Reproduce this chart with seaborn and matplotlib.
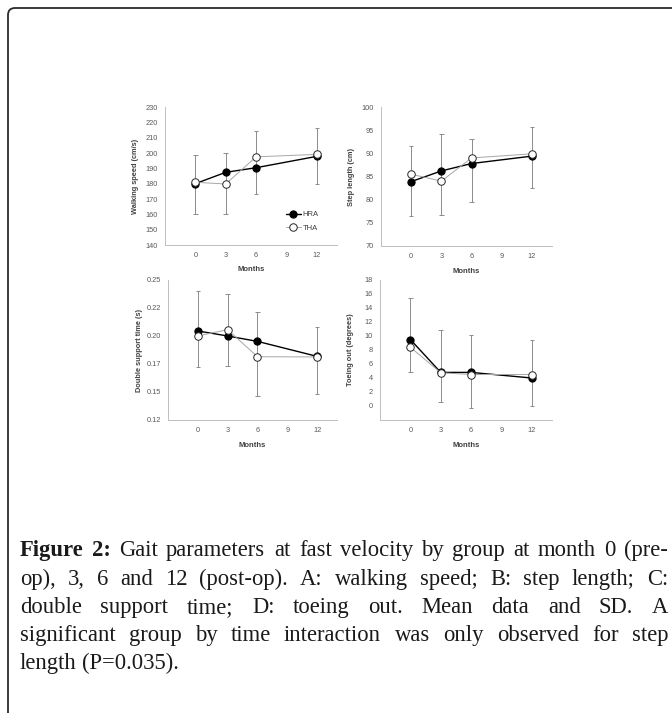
import matplotlib
matplotlib.use("Agg")
import matplotlib.pyplot as plt
import seaborn as sns
import pandas as pd
from matplotlib.path import Path
from matplotlib.patches import PathPatch
from matplotlib.transforms import IdentityTransform

# ---------------- data ----------------
months = [0, 3, 6, 12]
month_ticks = [0, 3, 6, 9, 12]
groups = ["HRA", "THA"]

ws_hra = [180.0, 187.4, 190.4, 197.8]
ws_tha = [180.9, 179.8, 197.5, 199.1]
ws_err_lo = [160.2, 160.2, 173.3, 179.8]
ws_err_hi = [198.7, 200.2, 214.1, 216.5]
ws_ticks = [140, 150, 160, 170, 180, 190, 200, 210, 220, 230]

sl_hra = [83.9, 86.2, 87.8, 89.4]
sl_tha = [85.5, 84.0, 89.0, 89.9]
sl_err_lo = [76.5, 76.7, 79.4, 82.5]
sl_err_hi = [91.5, 94.1, 93.0, 95.6]
sl_ticks = [70, 75, 80, 85, 90, 95, 100]

ds_hra = [0.2045, 0.2000, 0.1952, 0.1818]
ds_tha = [0.2000, 0.2057, 0.1815, 0.1813]
ds_err_lo = [0.1720, 0.1735, 0.1461, 0.1480]
ds_err_hi = [0.2402, 0.2372, 0.2211, 0.2077]
ds_ticks = [0.125, 0.15, 0.175, 0.2, 0.225, 0.25]
ds_tick_labels = ["0.12", "0.15", "0.17", "0.20", "0.22", "0.25"]

to_hra = [9.5, 4.8, 4.8, 4.0]
to_tha = [8.4, 4.75, 4.5, 4.5]
to_err_lo = [4.8, 0.6, -0.3, 0.0]
to_err_hi = [15.5, 10.8, 10.2, 9.4]
to_ticks = [0, 2, 4, 6, 8, 10, 12, 14, 16, 18]

caption_lines = [
    "Figure 2: Gait parameters at fast velocity by group at month 0 (pre-",
    "op), 3, 6 and 12 (post-op). A: walking speed; B: step length; C:",
    "double support time; D: toeing out. Mean data and SD. A",
    "significant group by time interaction was only observed for step",
    "length (P=0.035).",
]

# ---------------- style ----------------
sns.set_style("white")
plt.rcParams["font.family"] = ["Liberation Sans", "DejaVu Sans"]

W, H = 672, 713
fig = plt.figure(figsize=(W / 100, H / 100), dpi=100)

def px_axes(x0, x1, y0, y1):
    return fig.add_axes([x0 / W, 1 - y1 / H, (x1 - x0) / W, (y1 - y0) / H])

panels = [
    dict(box=(165, 337, 107, 245), hra=ws_hra, tha=ws_tha, lo=ws_err_lo, hi=ws_err_hi,
         ylim=(140, 230), ticks=ws_ticks, labels=[str(t) for t in ws_ticks],
         ylabel="Walking speed (cm/s)", legend=True),
    dict(box=(381, 552, 107, 246), hra=sl_hra, tha=sl_tha, lo=sl_err_lo, hi=sl_err_hi,
         ylim=(70, 100), ticks=sl_ticks, labels=[str(t) for t in sl_ticks],
         ylabel="Step length (cm)", legend=False),
    dict(box=(168, 337, 280, 420), hra=ds_hra, tha=ds_tha, lo=ds_err_lo, hi=ds_err_hi,
         ylim=(0.125, 0.25), ticks=ds_ticks, labels=ds_tick_labels,
         ylabel="Double support time (s)", legend=False),
    dict(box=(380, 552, 280, 420), hra=to_hra, tha=to_tha, lo=to_err_lo, hi=to_err_hi,
         ylim=(-2, 18), ticks=to_ticks, labels=[str(t) for t in to_ticks],
         ylabel="Toeing out (degrees)", legend=False),
]

tick_col = "#595959"
spine_col = "#bfbfbf"
err_col = "#8c8c8c"

for p in panels:
    x0, x1, y0, y1 = p["box"]
    ax = px_axes(x0, x1, y0, y1)
    # error bars
    ax.vlines(months, p["lo"], p["hi"], color=err_col, lw=0.7, zorder=1)
    ax.hlines(p["lo"], [m - 0.22 for m in months], [m + 0.22 for m in months],
              color=err_col, lw=0.7, zorder=1)
    ax.hlines(p["hi"], [m - 0.22 for m in months], [m + 0.22 for m in months],
              color=err_col, lw=0.7, zorder=1)
    df = pd.DataFrame({"Months": months * 2,
                       "value": p["hra"] + p["tha"],
                       "group": [groups[0]] * 4 + [groups[1]] * 4})
    sns.lineplot(data=df[df.group == "HRA"], x="Months", y="value", ax=ax,
                 color="black", lw=1.0, marker="o", markersize=5.2,
                 markerfacecolor="black", markeredgecolor="black", label="HRA",
                 legend=False, zorder=3)
    sns.lineplot(data=df[df.group == "THA"], x="Months", y="value", ax=ax,
                 color="#a6a6a6", lw=0.7, marker="o", markersize=5.4,
                 markerfacecolor="white", markeredgecolor="#262626",
                 markeredgewidth=0.7, label="THA", legend=False, zorder=4)
    ax.set_xlim(-3, 14)
    ax.set_ylim(*p["ylim"])
    ax.set_xticks(month_ticks)
    ax.set_xticklabels([str(m) for m in month_ticks])
    ax.set_yticks(p["ticks"])
    ax.set_yticklabels(p["labels"])
    ax.tick_params(axis="both", labelsize=5.3, colors=tick_col, length=2,
                   width=0.5, pad=3, direction="out")
    ax.tick_params(axis="x", color=spine_col)
    ax.tick_params(axis="y", color=spine_col)
    for s in ["top", "right"]:
        ax.spines[s].set_visible(False)
    for s in ["left", "bottom"]:
        ax.spines[s].set_color(spine_col)
        ax.spines[s].set_linewidth(0.7)
    ax.set_xlabel("Months", fontsize=5.5, fontweight="bold", color="#404040")
    ax.set_ylabel(p["ylabel"], fontsize=5.3, fontweight="bold", color="#404040")
    ax.xaxis.set_label_coords(0.5, -0.155)
    ax.yaxis.set_label_coords(-0.15, 0.5)
    ax.set_facecolor("none")
    if p["legend"]:
        leg = ax.legend(frameon=False, fontsize=5.5, loc="upper left",
                        bbox_to_anchor=(0.68, 0.275), handlelength=2.0,
                        handletextpad=0.2, labelspacing=0.85, borderpad=0)
        for t in leg.get_texts():
            t.set_color("#404040")

# ---------------- border ----------------
r = 7
verts = [(8, -5), (8, H - 8 - r), (8, H - 8), (8 + r, H - 8), (W + 5, H - 8)]
codes = [Path.MOVETO, Path.LINETO, Path.CURVE3, Path.CURVE3, Path.LINETO]
fig.patches.append(PathPatch(Path(verts, codes), fill=False, lw=1.3,
                             edgecolor="#2b2b2b", transform=IdentityTransform()))

# ---------------- caption (justified) ----------------
renderer = fig.canvas.get_renderer()
serif = ["Liberation Serif", "DejaVu Serif"]
fs = 16.3
left, right = 20, 668
baselines = [556, 585, 613, 641, 669]

for i, line in enumerate(caption_lines):
    words = line.split(" ")
    bold_n = 2 if i == 0 else 0
    texts = []
    for j, w in enumerate(words):
        t = fig.text(0, 0, w, fontsize=fs, family=serif,
                     fontweight="bold" if j < bold_n else "normal",
                     color="#1a1a1a", va="baseline", ha="left",
                     transform=IdentityTransform())
        texts.append(t)
    widths = [t.get_window_extent(renderer).width for t in texts]
    if i < len(caption_lines) - 1:
        gap = (right - left - sum(widths)) / (len(words) - 1)
    else:
        sp = fig.text(0, 0, "a a", fontsize=fs, family=serif)
        sp2 = fig.text(0, 0, "aa", fontsize=fs, family=serif)
        gap = sp.get_window_extent(renderer).width - sp2.get_window_extent(renderer).width
        sp.remove(); sp2.remove()
    x = left
    for t, wd in zip(texts, widths):
        t.set_position((round(x), H - baselines[i]))
        x += wd + gap

fig.savefig("out.png", dpi=100)
